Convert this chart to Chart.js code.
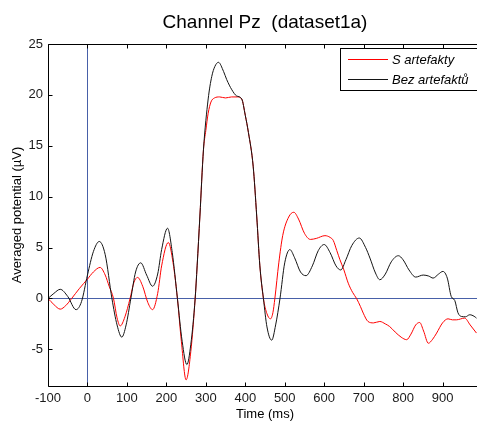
<!DOCTYPE html>
<html>
<head>
<meta charset="utf-8">
<script src="https://cdn.jsdelivr.net/npm/chart.js@4/dist/chart.umd.min.js"></script>
<style>
html,body{margin:0;padding:0;background:#fff;overflow:hidden;}
#wrap{width:490px;height:424px;}
</style>
</head>
<body>
<div id="wrap"><canvas id="c" width="490" height="424"></canvas></div>
<script>
const titleText = "Channel Pz  (dataset1a)";
const xLabel = "Time (ms)";
const yLabel = "Averaged potential (\u00b5V)";
const seriesNames = ["S artefakty", "Bez artefakt\u016f"];
const xTicks = [-100, 0, 100, 200, 300, 400, 500, 600, 700, 800, 900];
const yTicks = [-5, 0, 5, 10, 15, 20, 25];

// S artefakty (red)
const timeRed = [-100,-85,-69,-55,-40,-20,0,15,32,45,55,66,75,83,95,108,118,127,140,153,165,178,188,205,217,228,238,250,262,273,278,285,294,300,306,313,322,335,350,365,380,391,400,408,420,429,437,446,455,464,470,475,485,495,510,523,535,550,565,580,602,615,623,632,640,650,661,672,682,692,699,711,725,741,755,766,780,795,809,820,832,842,852,864,875,885,900,914,925,935,956,970,986];
const valRed  = [0,-0.6,-1.05,-0.7,0,1.0,1.9,2.6,3.05,2.3,1.2,0,-1.9,-2.7,-1.8,0,1.6,2.07,1.2,-0.4,-1.1,0.5,3.2,5.5,3.5,0,-4.2,-8.0,-5.2,0,3.2,8.1,14.6,16.5,18.2,19.3,19.7,19.8,19.7,19.8,19.8,19.6,18,16.3,13,8.1,3.2,0,-1.5,-2.0,-1.4,0,3.5,6.2,8.0,8.47,7.8,6.4,5.8,5.9,6.17,6.0,5.7,4.7,3.8,2.8,1.5,0.6,0,-0.8,-1.44,-2.26,-2.4,-2.26,-2.5,-2.76,-3.3,-3.8,-4.05,-3.5,-2.6,-2.36,-3.2,-4.4,-4.0,-3.4,-2.4,-2.0,-2.1,-2.1,-1.93,-2.6,-3.4];

// Bez artefaktů (black)
const timeBlack = [-100,-85,-69,-50,-29,-15,0,15,30,45,62,75,87,98,110,122,135,150,165,178,188,203,215,228,240,252,262,273,278,285,294,306,315,323,332,345,353,366,378,391,400,408,420,429,437,446,455,467,477,488,500,513,525,540,554,570,585,600,615,630,642,655,670,689,705,716,730,741,755,770,788,800,815,832,851,865,876,890,901,912,922,931,939,948,958,969,980,986];
const valBlack  = [0,0.5,0.9,0.2,-1.1,-0.3,2.3,4.6,5.6,4.3,0,-2.6,-3.8,-2.6,0,2.6,3.5,2.3,1.2,2.4,4.8,6.9,4.5,0,-4.2,-6.5,-4.5,0,3.2,8.1,14.6,19.6,21.8,22.8,23.2,22.3,21.5,20.5,19.9,19.6,18,16.3,13,8.1,3.2,0,-2.8,-4.1,-2.6,0,3.5,4.8,4.0,2.6,2.24,3.2,4.7,5.3,4.5,3.2,2.8,3.8,5.2,5.94,5.0,3.97,2.5,1.84,2.4,3.6,4.2,3.8,2.8,2.1,2.3,2.2,2.0,2.4,2.66,2.0,0.2,-0.2,-1.4,-1.77,-1.8,-1.6,-1.75,-1.93];

const redPts = timeRed.map((t, i) => ({x: t, y: valRed[i]}));
const blackPts = timeBlack.map((t, i) => ({x: t, y: valBlack[i]}));

const FONT = "'Liberation Sans', Arial, sans-serif";
const AXIS_BLUE = 'rgb(72,96,168)';

const decor = {
  id: 'decor',
  beforeDatasetsDraw(chart) {
    const {ctx, chartArea: a, scales: {x, y}} = chart;
    ctx.save();
    ctx.strokeStyle = AXIS_BLUE;
    ctx.lineWidth = 1;
    const y0 = Math.round(y.getPixelForValue(0)) + 0.5;
    const x0 = Math.round(x.getPixelForValue(0)) + 0.5;
    ctx.beginPath();
    ctx.moveTo(a.left, y0); ctx.lineTo(a.right, y0);
    ctx.moveTo(x0, a.top); ctx.lineTo(x0, a.bottom);
    ctx.stroke();
    ctx.restore();
  },
  afterDatasetsDraw(chart) {
    const {ctx, chartArea: a, scales: {x, y}} = chart;
    ctx.save();
    ctx.strokeStyle = '#000';
    ctx.lineWidth = 1;
    const L = Math.round(a.left) + 0.5, R = Math.round(a.right) + 0.5;
    const T = Math.round(a.top) + 0.5, B = Math.round(a.bottom) + 0.5;
    ctx.beginPath();
    ctx.moveTo(L, T); ctx.lineTo(R, T); ctx.lineTo(R, B); ctx.lineTo(L, B); ctx.closePath();
    // inward ticks
    x.ticks.forEach(tk => {
      const px = Math.round(x.getPixelForValue(tk.value)) + 0.5;
      ctx.moveTo(px, B); ctx.lineTo(px, B - 4);
      ctx.moveTo(px, T); ctx.lineTo(px, T + 4);
    });
    y.ticks.forEach(tk => {
      const py = Math.round(y.getPixelForValue(tk.value)) + 0.5;
      ctx.moveTo(L, py); ctx.lineTo(L + 4, py);
      ctx.moveTo(R, py); ctx.lineTo(R - 4, py);
    });
    ctx.stroke();

    // legend
    const lx = 340.5, ly = 48.5, lw = 142, lh = 42;
    ctx.fillStyle = '#fff';
    ctx.fillRect(lx, ly, lw, lh);
    ctx.strokeStyle = '#000';
    ctx.strokeRect(lx, ly, lw, lh);
    const rows = [59.5, 79.5];
    chart.data.datasets.forEach((ds, i) => {
      ctx.strokeStyle = ds.borderColor;
      ctx.beginPath();
      ctx.moveTo(348, rows[i]); ctx.lineTo(388, rows[i]);
      ctx.stroke();
      ctx.fillStyle = '#000';
      ctx.font = 'italic 13px ' + FONT;
      ctx.textAlign = 'left';
      ctx.textBaseline = 'middle';
      ctx.fillText(ds.label, 392, rows[i] + 1);
    });

    // title
    ctx.fillStyle = '#000';
    ctx.font = '19px ' + FONT;
    ctx.textAlign = 'center';
    ctx.textBaseline = 'alphabetic';
    ctx.fillText(titleText, (a.left + a.right) / 2, 28);

    // x label
    ctx.font = '13px ' + FONT;
    ctx.fillText(xLabel, (a.left + a.right) / 2, 418);

    // y label
    ctx.save();
    ctx.translate(21, (a.top + a.bottom) / 2);
    ctx.rotate(-Math.PI / 2);
    ctx.textAlign = 'center';
    ctx.textBaseline = 'alphabetic';
    ctx.fillText(yLabel, 0, 0);
    ctx.restore();
    ctx.restore();
  }
};

new Chart(document.getElementById('c'), {
  type: 'line',
  data: {
    datasets: [
      {label: seriesNames[0], data: redPts, borderColor: 'rgb(255,0,0)', borderWidth: 1, pointRadius: 0, cubicInterpolationMode: 'monotone', fill: false, order: 1},
      {label: seriesNames[1], data: blackPts, borderColor: 'rgb(20,20,20)', borderWidth: 1, pointRadius: 0, cubicInterpolationMode: 'monotone', fill: false, order: 0}
    ]
  },
  options: {
    responsive: false,
    animation: false,
    devicePixelRatio: 1,
    layout: {padding: {left: 0, top: 44, right: 8, bottom: 0}},
    plugins: {legend: {display: false}, tooltip: {enabled: false}, title: {display: false}},
    scales: {
      x: {
        type: 'linear', min: -100, max: 1000,
        afterBuildTicks(s) { s.ticks = xTicks.map(v => ({value: v})); },
        afterFit(s) { s.height = 38; },
        grid: {display: false, drawTicks: false},
        border: {display: false},
        ticks: {padding: 5, color: '#1a1a1a', font: {family: FONT, size: 13}, maxRotation: 0, autoSkip: false}
      },
      y: {
        type: 'linear', min: -8.6, max: 25,
        afterBuildTicks(s) { s.ticks = yTicks.map(v => ({value: v})); },
        afterFit(s) { s.width = 48; },
        grid: {display: false, drawTicks: false},
        border: {display: false},
        ticks: {padding: 5, color: '#1a1a1a', font: {family: FONT, size: 13}, autoSkip: false}
      }
    }
  },
  plugins: [decor]
});
</script>
</body>
</html>
